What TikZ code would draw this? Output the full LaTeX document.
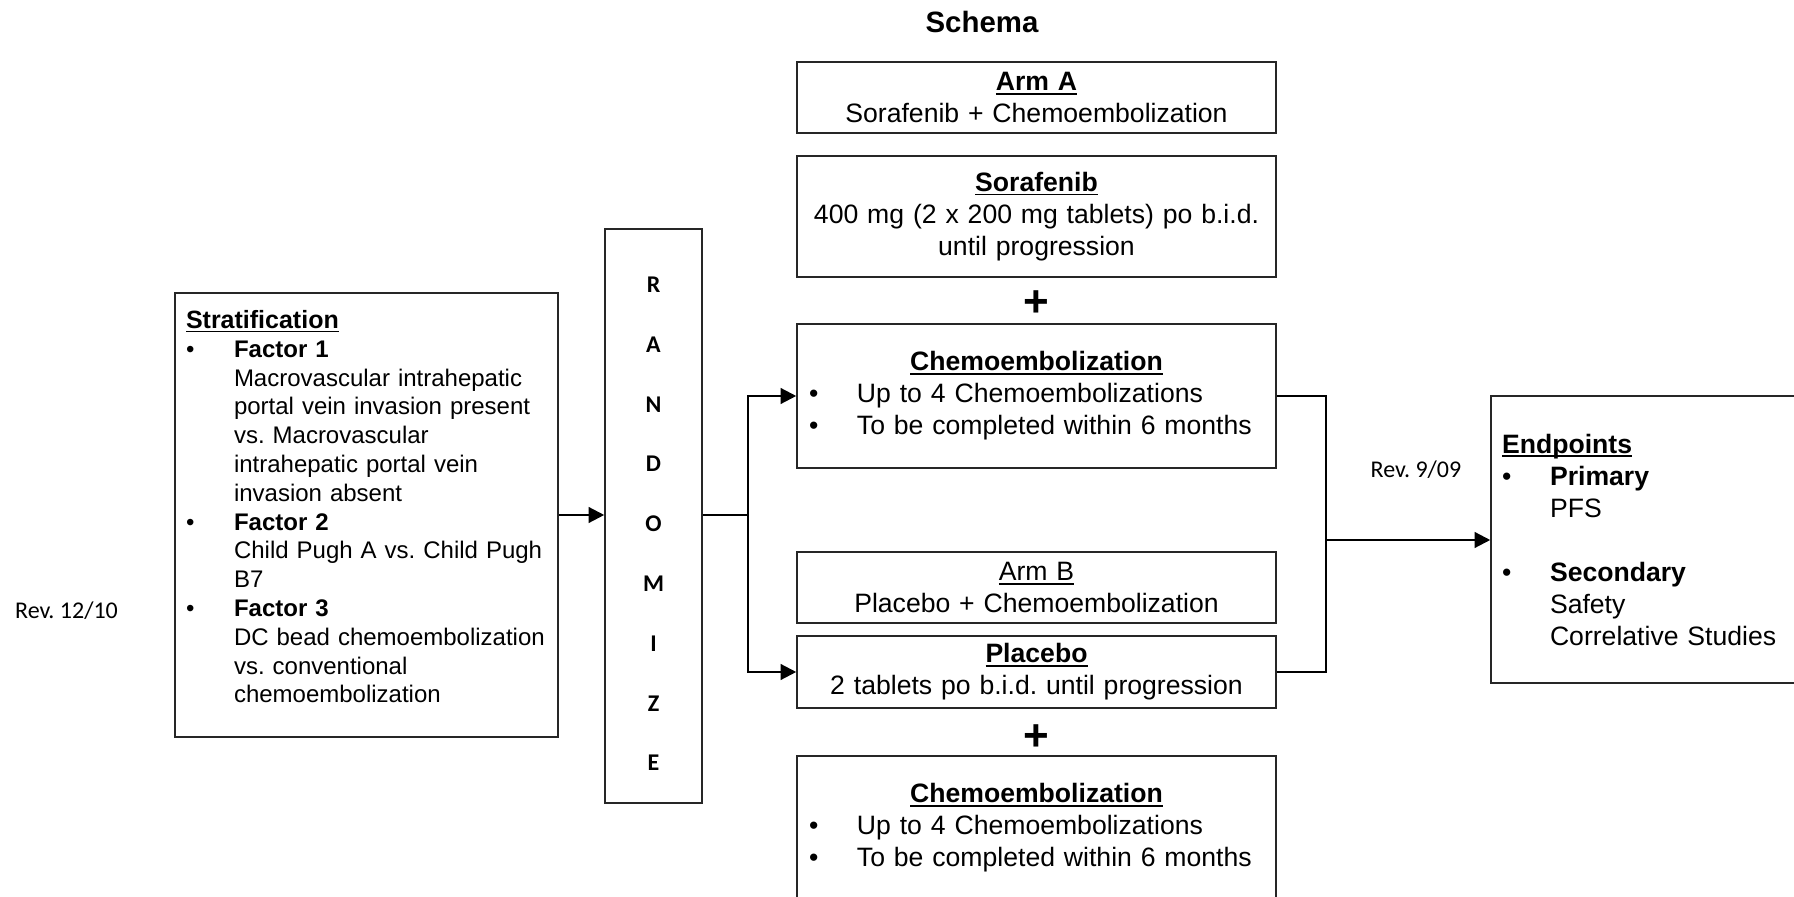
\documentclass[tikz,border=0pt]{standalone}
\usepackage{fontspec}
\setmainfont{Liberation Sans}
\newfontfamily\revfont{Carlito}
\usetikzlibrary{arrows.meta}
\frenchspacing

\newsavebox\ulbox
\newcommand{\undl}[1]{\sbox\ulbox{#1}\rlap{\rule[-2pt]{\wd\ulbox}{0.9pt}}\usebox\ulbox}
\newcommand{\bul}{\makebox[24pt][l]{\textbullet}}
\newcommand{\ind}{\hspace*{24pt}}
\newcommand{\boxsize}{\fontsize{13.3}{16}\selectfont}
\newcommand{\stratsize}{\fontsize{12}{14.4}\selectfont}

\begin{document}
\begin{tikzpicture}[
	x=0.5pt, y=-0.5pt,
	box/.style = {draw=black!85, line width=0.85pt, rectangle, inner xsep=6pt, inner ysep=0pt, text width=227.5pt, align=center, font=\boxsize},
	listbox/.style = {box, align=left},
	plus/.style = {font=\fontsize{22}{22}\selectfont\bfseries, inner sep=0pt},
	rev/.style = {font=\revfont\fontsize{12}{14}\selectfont, anchor=base, inner sep=0pt},
	conn/.style = {draw, line width=0.6pt},
	arr/.style = {conn, -{Triangle[length=7.8pt, width=8pt]}}
]
  \useasboundingbox (0,0) rectangle (1794,897);
  \clip (0,0) rectangle (1794,897);

  % Define vertices
  \node[anchor=base, inner sep=0pt, font=\fontsize{14.7}{16}\selectfont\bfseries] (title) at (982,33) {Schema};
  \node[rev] (revA) at (66.5,619) {Rev. 12/10};
  \node[rev] (revB) at (1416,478) {Rev. 9/09};

  \node[listbox, font=\stratsize, inner xsep=5.5pt, text width=180.5pt, minimum height=222pt] (strat) at (366.5,515) {{\fontsize{12.5}{14.4}\selectfont\textbf{\undl{Stratification}}}\\
    \bul\textbf{Factor 1}\\
    \ind Macrovascular intrahepatic\\
    \ind portal vein invasion present\\
    \ind vs. Macrovascular\\
    \ind intrahepatic portal vein\\
    \ind invasion absent\\
    \bul\textbf{Factor 2}\\
    \ind Child Pugh A vs. Child Pugh\\
    \ind B7\\
    \bul\textbf{Factor 3}\\
    \ind DC bead chemoembolization\\
    \ind vs. conventional\\
    \ind chemoembolization\rule[-8.4pt]{0pt}{8.4pt}};
  \node[box, font=\revfont\bfseries\fontsize{12}{29.9}\selectfont, text width=36.5pt, minimum height=287pt] (rand) at (653.5,516) {\rule{0pt}{15.7pt}R\\A\\N\\D\\O\\M\\I\\Z\\E};

  \node[box, minimum height=35.5pt] (armA) at (1036.5,97.5) {\textbf{\undl{Arm A}}\\Sorafenib + Chemoembolization};
  \node[box, minimum height=60.5pt] (sora) at (1036.5,216.5) {\textbf{\undl{Sorafenib}}\\400 mg (2 x 200 mg tablets) po b.i.d.\\until progression};
  \node[plus] (plusA) at (1036,303.5) {+};
  \node[listbox, minimum height=72pt] (chemoA) at (1036.5,396) {\makebox[\hsize]{\textbf{\undl{Chemoembolization}}}\\
    \bul Up to 4 Chemoembolizations\\
    \bul To be completed within 6 months};
  \node[box, minimum height=35.5pt] (armB) at (1036.5,587.5) {\undl{Arm B}\\Placebo + Chemoembolization};
  \node[box, minimum height=36pt] (plac) at (1036.5,672) {\textbf{\undl{Placebo}}\\2 tablets po b.i.d. until progression};
  \node[plus] (plusB) at (1036,737.5) {+};
  \node[listbox, minimum height=72pt] (chemoB) at (1036.5,828) {\makebox[\hsize]{\textbf{\undl{Chemoembolization}}}\\
    \bul Up to 4 Chemoembolizations\\
    \bul To be completed within 6 months};

  \node[listbox, inner xsep=5.5pt, text width=189pt, minimum height=143.5pt] (ends) at (1691,539.5) {\textbf{\undl{Endpoints}}\\
    \bul\textbf{Primary}\\
    \ind PFS\\[16pt]
    \bul\textbf{Secondary}\\
    \ind Safety\\
    \ind Correlative Studies};

  % Edges
  \coordinate (split) at (748,515);
  \coordinate (join) at (1326,540);
  \draw[arr] (strat.east) -- (strat.east -| rand.west);
  \draw[conn] (strat.east -| rand.east) -- (split);
  \draw[arr] (split) |- (chemoA.west);
  \draw[arr] (split) |- (plac.west);
  \draw[conn] (chemoA.east) -| (join);
  \draw[conn] (plac.east) -| (join);
  \draw[arr] (join) -- (join -| ends.west);
\end{tikzpicture}
\end{document}
